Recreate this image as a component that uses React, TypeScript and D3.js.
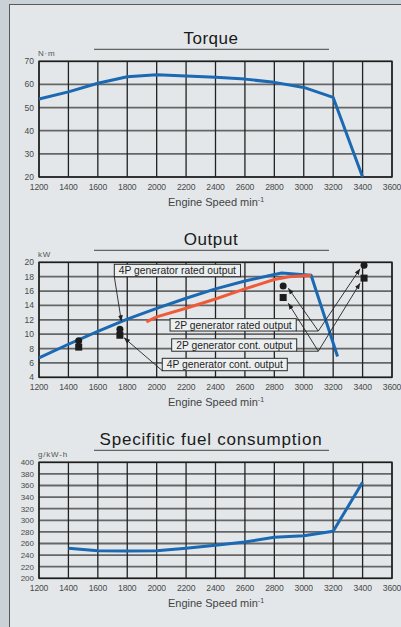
import React, { useEffect, useRef } from 'react';
import * as d3 from 'd3';

const W = 401;
const H = 627;

// shared x axis (engine speed, min-1)
const speedTicks = [1200, 1400, 1600, 1800, 2000, 2200, 2400, 2600, 2800, 3000, 3200, 3400, 3600];

// Torque (N·m)
const torqueTicks = [20, 30, 40, 50, 60, 70];
const torqueSpeed = [1200, 1400, 1600, 1800, 2000, 2200, 2400, 2600, 2800, 3000, 3200, 3400];
const torqueValues = [53.7, 56.8, 60.5, 63.3, 64.2, 63.6, 63.1, 62.3, 60.9, 58.7, 54.4, 20];

// Output (kW)
const outputTicks = [4, 6, 8, 10, 12, 14, 16, 18, 20];
const blueSpeed = [1200, 1400, 1600, 1800, 2000, 2200, 2400, 2600, 2800, 2850, 3050, 3230];
const blueKw = [6.7, 8.6, 10.4, 12.1, 13.6, 15.0, 16.3, 17.4, 18.3, 18.5, 18.2, 6.9];
const redSpeed = [1930, 2000, 2200, 2400, 2600, 2800, 2900, 3050];
const redKw = [11.7, 12.4, 13.6, 14.9, 16.3, 17.6, 18.0, 18.2];
const genSpeed = [1470, 1750, 2860, 3410];
const genRatedKw = [9.1, 10.7, 16.7, 19.6];
const genContKw = [8.2, 9.85, 15.1, 17.8];

// label boxes: left edge (speed), vertical centre (kW)
const annText = ['4P generator rated output', '2P generator rated output', '2P generator cont. output', '4P generator cont. output'];
const annSpeed = [1712, 2091, 2102, 2038];
const annKw = [18.86, 11.3, 8.49, 5.78];
const annVertexSpeed = [null, 3099, 3099, null];
const annTips: [number, number][][] = [
  [[1760, 11.8]],
  [[2895, 16.4], [3383, 19.1]],
  [[2895, 14.3], [3383, 17.1]],
  [[1778, 9.5]],
];

// Specific fuel consumption (g/kW·h)
const sfcTicks = [200, 220, 240, 260, 280, 300, 320, 340, 360, 380, 400];
const sfcSpeed = [1400, 1600, 1800, 2000, 2200, 2400, 2600, 2800, 3000, 3200, 3400];
const sfcValues = [251.7, 247.6, 247, 247.6, 251.7, 256.9, 262.6, 270.7, 273.4, 281, 365.5];

const FONT = '"Liberation Sans", Arial, Helvetica, sans-serif';
const BLUE = '#1b68b3';
const RED = '#ef5b38';

export default function App() {
  const svgRef = useRef<SVGSVGElement>(null);

  useEffect(() => {
    if (!svgRef.current) return;
    const svg = d3.select(svgRef.current);
    svg.selectAll('*').remove();

    svg.append('rect').attr('width', W).attr('height', H).attr('fill', '#cad2d7');
    svg.append('rect')
      .attr('x', 9.5).attr('y', 4.5).attr('width', 440).attr('height', 700)
      .attr('fill', '#e3e7e9').attr('stroke', '#5a5a5a').attr('stroke-width', 1);

    svg.append('defs').append('marker')
      .attr('id', 'arr')
      .attr('viewBox', '0 0 10 10')
      .attr('refX', 10).attr('refY', 5)
      .attr('markerWidth', 6).attr('markerHeight', 6)
      .attr('markerUnits', 'userSpaceOnUse')
      .attr('orient', 'auto')
      .append('path').attr('d', 'M0,1 L10,5 L0,9 Z').attr('fill', '#222');

    const x = d3.scaleLinear().domain([1200, 3600]).range([39, 392]);

    const drawChart = (spec: {
      title: string; spacing: number; unit: string;
      domain: [number, number]; range: [number, number]; ticks: number[]; tickSize: number;
    }) => {
      const y = d3.scaleLinear().domain(spec.domain).range(spec.range);
      const top = spec.range[1];
      const bottom = spec.range[0];
      const g = svg.append('g');

      g.append('text')
        .attr('x', 211).attr('y', top - 17)
        .attr('text-anchor', 'middle')
        .attr('font-family', FONT).attr('font-size', 17)
        .attr('letter-spacing', spec.spacing)
        .attr('fill', '#1a1a1a')
        .text(spec.title);
      g.append('line')
        .attr('x1', 94).attr('x2', 329).attr('y1', top - 12).attr('y2', top - 12)
        .attr('stroke', '#444').attr('stroke-width', 1);

      g.append('text')
        .attr('x', 38).attr('y', top - 5)
        .attr('font-family', FONT).attr('font-size', 8).attr('letter-spacing', 0.8)
        .attr('fill', '#555')
        .text(spec.unit);

      // horizontal grid
      g.selectAll('.hg').data(spec.ticks).enter().append('line')
        .attr('x1', x(1200)).attr('x2', x(3600))
        .attr('y1', d => y(d)).attr('y2', d => y(d))
        .attr('stroke', '#666').attr('stroke-width', 1.8);
      // vertical grid
      g.selectAll('.vg').data(speedTicks).enter().append('line')
        .attr('x1', d => x(d)).attr('x2', d => x(d))
        .attr('y1', top).attr('y2', bottom)
        .attr('stroke', '#222').attr('stroke-width', 1.3);
      g.append('rect')
        .attr('x', x(1200)).attr('y', top)
        .attr('width', x(3600) - x(1200)).attr('height', bottom - top)
        .attr('fill', 'none').attr('stroke', '#1e1e1e').attr('stroke-width', 1.4);

      g.selectAll('.yl').data(spec.ticks).enter().append('text')
        .attr('x', 34).attr('y', d => y(d))
        .attr('dy', '0.35em')
        .attr('text-anchor', 'end')
        .attr('font-family', FONT).attr('font-size', spec.tickSize)
        .attr('fill', '#4a4a4a')
        .text(d => d);
      g.selectAll('.xl').data(speedTicks).enter().append('text')
        .attr('x', d => x(d)).attr('y', bottom + 9.5)
        .attr('dy', '0.35em')
        .attr('text-anchor', 'middle')
        .attr('font-family', FONT).attr('font-size', 8.6)
        .attr('letter-spacing', -0.2)
        .attr('fill', '#4a4a4a')
        .text(d => d);

      const t = g.append('text')
        .attr('x', 216).attr('y', bottom + 29)
        .attr('text-anchor', 'middle')
        .attr('font-family', FONT).attr('font-size', 11)
        .attr('fill', '#444');
      t.append('tspan').text('Engine Speed min');
      t.append('tspan').attr('dy', -4).attr('font-size', 7).text('-1');

      return { g, y };
    };

    const line = (y: d3.ScaleLinear<number, number>) =>
      d3.line<[number, number]>().x(d => x(d[0])).y(d => y(d[1]));

    const drawCurve = (g: any, y: d3.ScaleLinear<number, number>, xs: number[], ys: number[], color: string) => {
      g.append('path')
        .datum(xs.map((s, i) => [s, ys[i]] as [number, number]))
        .attr('d', line(y))
        .attr('fill', 'none')
        .attr('stroke', color)
        .attr('stroke-width', 3)
        .attr('stroke-linejoin', 'round');
    };

    // Torque
    const torque = drawChart({
      title: 'Torque', spacing: 0.5, unit: 'N·m',
      domain: [20, 70], range: [177, 61.3], ticks: torqueTicks, tickSize: 8.5,
    });
    drawCurve(torque.g, torque.y, torqueSpeed, torqueValues, BLUE);

    // Output
    const out = drawChart({
      title: 'Output', spacing: 0.6, unit: 'kW',
      domain: [4, 20], range: [377.3, 262.3], ticks: outputTicks, tickSize: 8.5,
    });
    drawCurve(out.g, out.y, blueSpeed, blueKw, BLUE);
    drawCurve(out.g, out.y, redSpeed, redKw, RED);

    out.g.selectAll('.sq').data(genSpeed).enter().append('rect')
      .attr('x', d => x(d) - 3.5)
      .attr('y', (d, i) => out.y(genContKw[i]) - 3.5)
      .attr('width', 7).attr('height', 7)
      .attr('fill', '#1c1c1c');
    out.g.selectAll('.ci').data(genSpeed).enter().append('circle')
      .attr('cx', d => x(d))
      .attr('cy', (d, i) => out.y(genRatedKw[i]))
      .attr('r', 3.5)
      .attr('fill', '#1c1c1c');

    annText.forEach((txt, i) => {
      const left = x(annSpeed[i]);
      const cy = out.y(annKw[i]);
      const label = out.g.append('text')
        .attr('x', left + 4.5).attr('y', cy)
        .attr('dy', '0.36em')
        .attr('font-family', FONT).attr('font-size', 10.3)
        .attr('fill', '#1e1e1e')
        .text(txt);
      const w = (label.node() as SVGTextElement).getComputedTextLength() + 9;
      const h = 12.4;
      out.g.insert('rect', () => label.node() as any)
        .attr('x', left).attr('y', cy - h / 2)
        .attr('width', w).attr('height', h)
        .attr('fill', '#eceff0').attr('stroke', '#2a2a2a').attr('stroke-width', 1);

      const by = cy + h / 2;
      const vs = annVertexSpeed[i];
      if (vs !== null) {
        const vx = x(vs);
        out.g.append('line')
          .attr('x1', left + w).attr('x2', vx).attr('y1', by).attr('y2', by)
          .attr('stroke', '#222').attr('stroke-width', 0.9);
        annTips[i].forEach(tp => {
          out.g.append('line')
            .attr('x1', vx).attr('y1', by)
            .attr('x2', x(tp[0])).attr('y2', out.y(tp[1]))
            .attr('stroke', '#222').attr('stroke-width', 0.9)
            .attr('marker-end', 'url(#arr)');
        });
      } else {
        annTips[i].forEach(tp => {
          out.g.append('line')
            .attr('x1', left).attr('y1', by)
            .attr('x2', x(tp[0])).attr('y2', out.y(tp[1]))
            .attr('stroke', '#222').attr('stroke-width', 0.9)
            .attr('marker-end', 'url(#arr)');
        });
      }
    });

    // Specific fuel consumption
    const sfc = drawChart({
      title: 'Specifitic fuel consumption', spacing: 0.8, unit: 'g/kW-h',
      domain: [200, 400], range: [578.3, 462.3], ticks: sfcTicks, tickSize: 8,
    });
    drawCurve(sfc.g, sfc.y, sfcSpeed, sfcValues, BLUE);
  }, []);

  return (
    <div style={{ position: 'absolute', left: 0, top: 0, width: W, height: H, overflow: 'hidden' }}>
      <svg ref={svgRef} width={W} height={H} style={{ display: 'block' }} />
    </div>
  );
}
